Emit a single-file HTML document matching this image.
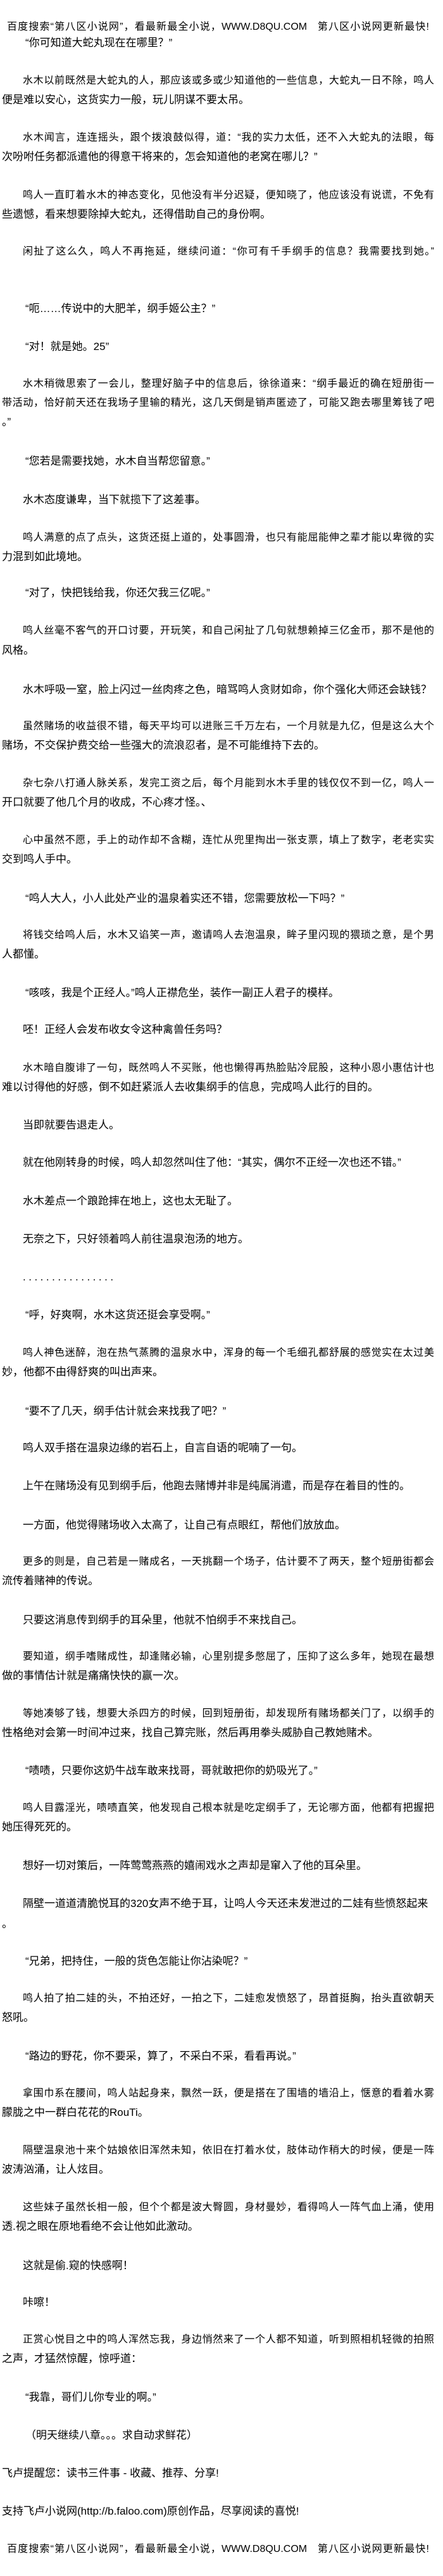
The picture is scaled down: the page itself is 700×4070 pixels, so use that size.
<!DOCTYPE html>
<html><head><meta charset="utf-8">
<style>
html,body{margin:0;padding:0;background:#fff;}
body{width:700px;height:4070px;position:relative;overflow:hidden;font-family:"Liberation Sans","Noto Sans CJK SC",sans-serif;font-size:17px;color:#000;}
div{position:absolute;white-space:nowrap;line-height:30px;height:30px;}
.j{text-align:justify;text-align-last:justify;white-space:normal;overflow:hidden;font-size:16px;}
.a{left:36px}.b{left:3px}.q{left:40px}
.a.j{width:650px}.b.j{width:683px}
.h{left:11px;width:667px;text-align:justify;text-align-last:justify;white-space:normal;font-size:16px;overflow:hidden;}
</style></head><body>
<div class="h" style="top:28px">百度搜索“第八区小说网”，看最新最全小说，WWW.D8QU.COM &nbsp; 第八区小说网更新最快!</div>
<div class="q" style="top:53px">“你可知道大蛇丸现在在哪里？”</div>
<div class="a j" style="top:113px">水木以前既然是大蛇丸的人，那应该或多或少知道他的一些信息，大蛇丸一日不除，鸣人</div>
<div class="b" style="top:143px">便是难以安心，这货实力一般，玩儿阴谋不要太吊。</div>
<div class="a j" style="top:203px">水木闻言，连连摇头，跟个拨浪鼓似得，道：“我的实力太低，还不入大蛇丸的法眼，每</div>
<div class="b" style="top:233px">次吩咐任务都派遣他的得意干将来的，怎会知道他的老窝在哪儿？”</div>
<div class="a j" style="top:294px">鸣人一直盯着水木的神态变化，见他没有半分迟疑，便知晓了，他应该没有说谎，不免有</div>
<div class="b" style="top:324px">些遗憾，看来想要除掉大蛇丸，还得借助自己的身份啊。</div>
<div class="a j" style="top:383px">闲扯了这么久，鸣人不再拖延，继续问道：“你可有千手纲手的信息？我需要找到她。”</div>
<div class="q" style="top:473px">“呃……传说中的大肥羊，纲手姬公主？”</div>
<div class="q" style="top:533px">“对！就是她。25”</div>
<div class="a j" style="top:592px">水木稍微思索了一会儿，整理好脑子中的信息后，徐徐道来：“纲手最近的确在短册街一</div>
<div class="b j" style="top:622px">带活动，恰好前天还在我场子里输的精光，这几天倒是销声匿迹了，可能又跑去哪里筹钱了吧</div>
<div class="b" style="top:652px">。”</div>
<div class="q" style="top:714px">“您若是需要找她，水木自当帮您留意。”</div>
<div class="a" style="top:775px">水木态度谦卑，当下就揽下了这差事。</div>
<div class="a j" style="top:835px">鸣人满意的点了点头，这货还挺上道的，处事圆滑，也只有能屈能伸之辈才能以卑微的实</div>
<div class="b" style="top:865px">力混到如此境地。</div>
<div class="q" style="top:922px">“对了，快把钱给我，你还欠我三亿呢。”</div>
<div class="a j" style="top:982px">鸣人丝毫不客气的开口讨要，开玩笑，和自己闲扯了几句就想赖掉三亿金币，那不是他的</div>
<div class="b" style="top:1013px">风格。</div>
<div class="a" style="top:1075px">水木呼吸一窒，脸上闪过一丝肉疼之色，暗骂鸣人贪财如命，你个强化大师还会缺钱？</div>
<div class="a j" style="top:1133px">虽然赌场的收益很不错，每天平均可以进账三千万左右，一个月就是九亿，但是这么大个</div>
<div class="b" style="top:1163px">赌场，不交保护费交给一些强大的流浪忍者，是不可能维持下去的。</div>
<div class="a j" style="top:1223px">杂七杂八打通人脉关系，发完工资之后，每个月能到水木手里的钱仅仅不到一亿，鸣人一</div>
<div class="b" style="top:1253px">开口就要了他几个月的收成，不心疼才怪。、</div>
<div class="a j" style="top:1313px">心中虽然不愿，手上的动作却不含糊，连忙从兜里掏出一张支票，填上了数字，老老实实</div>
<div class="b" style="top:1343px">交到鸣人手中。</div>
<div class="q" style="top:1405px">“鸣人大人，小人此处产业的温泉着实还不错，您需要放松一下吗？”</div>
<div class="a j" style="top:1463px">将钱交给鸣人后，水木又谄笑一声，邀请鸣人去泡温泉，眸子里闪现的猥琐之意，是个男</div>
<div class="b" style="top:1493px">人都懂。</div>
<div class="q" style="top:1554px">“咳咳，我是个正经人。”鸣人正襟危坐，装作一副正人君子的模样。</div>
<div class="a" style="top:1612px">呸！正经人会发布收女令这种禽兽任务吗？</div>
<div class="a j" style="top:1673px">水木暗自腹诽了一句，既然鸣人不买账，他也懒得再热脸贴冷屁股，这种小恩小惠估计也</div>
<div class="b" style="top:1703px">难以讨得他的好感，倒不如赶紧派人去收集纲手的信息，完成鸣人此行的目的。</div>
<div class="a" style="top:1763px">当即就要告退走人。</div>
<div class="a" style="top:1822px">就在他刚转身的时候，鸣人却忽然叫住了他：“其实，偶尔不正经一次也还不错。”</div>
<div class="a" style="top:1883px">水木差点一个踉跄摔在地上，这也太无耻了。</div>
<div class="a" style="top:1943px">无奈之下，只好领着鸣人前往温泉泡汤的地方。</div>
<div class="a" style="top:2003px;letter-spacing:4.5px">................</div>
<div class="q" style="top:2063px">“呼，好爽啊，水木这货还挺会享受啊。”</div>
<div class="a j" style="top:2123px">鸣人神色迷醉，泡在热气蒸腾的温泉水中，浑身的每一个毛细孔都舒展的感觉实在太过美</div>
<div class="b" style="top:2153px">妙，他都不由得舒爽的叫出声来。</div>
<div class="q" style="top:2215px">“要不了几天，纲手估计就会来找我了吧？”</div>
<div class="a" style="top:2273px">鸣人双手搭在温泉边缘的岩石上，自言自语的呢喃了一句。</div>
<div class="a" style="top:2333px">上午在赌场没有见到纲手后，他跑去赌博并非是纯属消遣，而是存在着目的性的。</div>
<div class="a" style="top:2395px">一方面，他觉得赌场收入太高了，让自己有点眼红，帮他们放放血。</div>
<div class="a j" style="top:2453px">更多的则是，自己若是一赌成名，一天挑翻一个场子，估计要不了两天，整个短册街都会</div>
<div class="b" style="top:2483px">流传着赌神的传说。</div>
<div class="a" style="top:2545px">只要这消息传到纲手的耳朵里，他就不怕纲手不来找自己。</div>
<div class="a j" style="top:2603px">要知道，纲手嗜赌成性，却逢赌必输，心里别提多憋屈了，压抑了这么多年，她现在最想</div>
<div class="b" style="top:2633px">做的事情估计就是痛痛快快的赢一次。</div>
<div class="a j" style="top:2693px">等她凑够了钱，想要大杀四方的时候，回到短册街，却发现所有赌场都关门了，以纲手的</div>
<div class="b" style="top:2723px">性格绝对会第一时间冲过来，找自己算完账，然后再用拳头威胁自己教她赌术。</div>
<div class="q" style="top:2783px">“啧啧，只要你这奶牛战车敢来找哥，哥就敢把你的奶吸光了。”</div>
<div class="a j" style="top:2842px">鸣人目露淫光，啧啧直笑，他发现自己根本就是吃定纲手了，无论哪方面，他都有把握把</div>
<div class="b" style="top:2872px">她压得死死的。</div>
<div class="a" style="top:2933px">想好一切对策后，一阵莺莺燕燕的嬉闹戏水之声却是窜入了他的耳朵里。</div>
<div class="a" style="top:2993px">隔壁一道道清脆悦耳的320女声不绝于耳，让鸣人今天还未发泄过的二娃有些愤怒起来</div>
<div class="b" style="top:3025px">。</div>
<div class="q" style="top:3084px">“兄弟，把持住，一般的货色怎能让你沾染呢？”</div>
<div class="a j" style="top:3143px">鸣人拍了拍二娃的头，不拍还好，一拍之下，二娃愈发愤怒了，昂首挺胸，抬头直欲朝天</div>
<div class="b" style="top:3173px">怒吼。</div>
<div class="q" style="top:3234px">“路边的野花，你不要采，算了，不采白不采，看看再说。”</div>
<div class="a j" style="top:3293px">拿围巾系在腰间，鸣人站起身来，飘然一跃，便是搭在了围墙的墙沿上，惬意的看着水雾</div>
<div class="b" style="top:3323px">朦胧之中一群白花花的RouTi。</div>
<div class="a j" style="top:3383px">隔壁温泉池十来个姑娘依旧浑然未知，依旧在打着水仗，肢体动作稍大的时候，便是一阵</div>
<div class="b" style="top:3413px">波涛汹涌，让人炫目。</div>
<div class="a j" style="top:3473px">这些妹子虽然长相一般，但个个都是波大臀圆，身材曼妙，看得鸣人一阵气血上涌，使用</div>
<div class="b" style="top:3503px">透.视之眼在原地看绝不会让他如此激动。</div>
<div class="a" style="top:3565px">这就是偷.窥的快感啊！</div>
<div class="a" style="top:3623px">咔嚓！</div>
<div class="a j" style="top:3682px">正赏心悦目之中的鸣人浑然忘我，身边悄然来了一个人都不知道，听到照相机轻微的拍照</div>
<div class="b" style="top:3712px">之声，才猛然惊醒，惊呼道：</div>
<div class="q" style="top:3773px">“我靠，哥们儿你专业的啊。”</div>
<div class="q" style="top:3833px">（明天继续八章。。。求自动求鲜花）</div>
<div class="b" style="top:3893px">飞卢提醒您：读书三件事 - 收藏、推荐、分享!</div>
<div class="b" style="top:3953px">支持飞卢小说网(http://b.faloo.com)原创作品，尽享阅读的喜悦!</div>
<div class="h" style="top:4013px">百度搜索“第八区小说网”，看最新最全小说，WWW.D8QU.COM &nbsp; 第八区小说网更新最快!</div>
</body></html>
